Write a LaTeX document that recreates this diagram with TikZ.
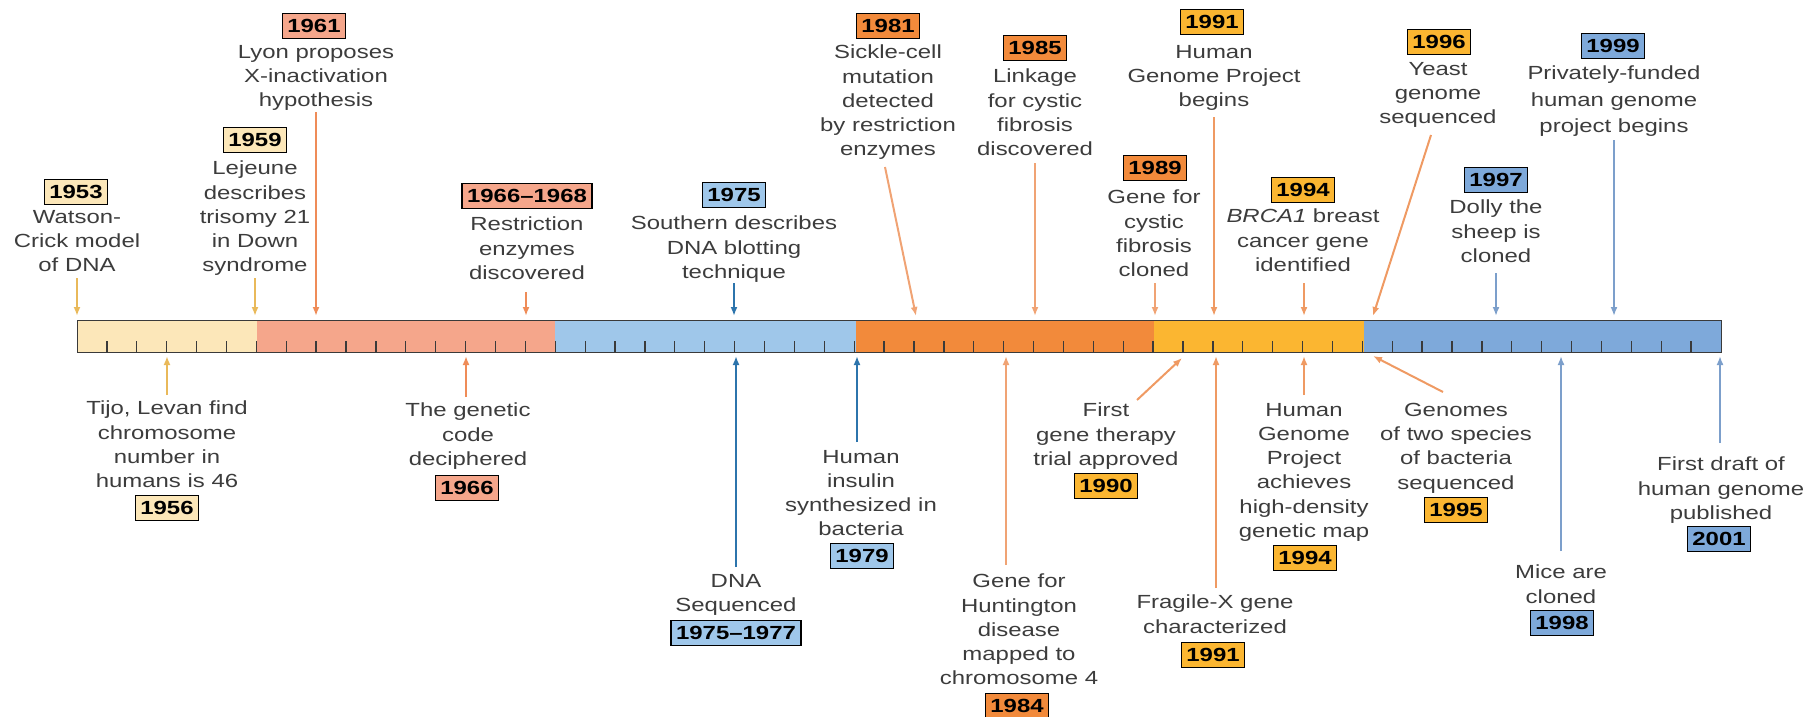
\documentclass[tikz,border=0pt]{standalone}
\usepackage{fontspec}
\setmainfont[FakeStretch=1.26]{Liberation Sans}
\usetikzlibrary{arrows.meta}

% era colours: bar segments and year tags
\definecolor{eraA}{HTML}{FCE7B9}
\definecolor{eraB}{HTML}{F5A68B}
\definecolor{eraC}{HTML}{9FC7EA}
\definecolor{eraD}{HTML}{F28A3B}
\definecolor{eraE}{HTML}{FBB631}
\definecolor{eraF}{HTML}{7EA9DA}
% pointer colours
\definecolor{ptrA}{HTML}{E9B95A}
\definecolor{ptrB}{HTML}{EF8C58}
\definecolor{ptrC}{HTML}{2C74AC}
\definecolor{ptrD}{HTML}{F0A374}
\definecolor{ptrE}{HTML}{EF9A63}
\definecolor{ptrF}{HTML}{7C9FCB}
\definecolor{txtgray}{HTML}{3C3C3C}
\definecolor{rim}{HTML}{3A3A3A}

\begin{document}
\begin{tikzpicture}[x=1pt,y=-1pt,
  lbl/.style={align=center, inner sep=0pt, anchor=north, text=txtgray,
              font=\fontsize{19}{24.2}\selectfont},
  lblup/.style={lbl, anchor=south},
  yr/.style={draw=black, line width=1.6pt, fill=#1, text=black,
             font=\fontsize{19}{24}\selectfont\bfseries,
             inner xsep=5pt, inner ysep=0pt, minimum height=25pt,
             text height=13.6pt, text depth=0pt},
  ptr/.style={draw=#1, line width=2pt, -{Latex[length=9pt,width=7pt]}},
  tick/.style={draw=rim, line width=1.3pt},
]
\useasboundingbox (0,0) rectangle (1810,717);

% ---- the time bar ----
\fill[eraA] (77,320)   rectangle (257,352);
\fill[eraB] (257,320)  rectangle (555,352);
\fill[eraC] (555,320)  rectangle (856,352);
\fill[eraD] (856,320)  rectangle (1154,352);
\fill[eraE] (1154,320) rectangle (1364,352);
\fill[eraF] (1364,320) rectangle (1721,352);
\foreach \k in {1,...,54}
  \draw[tick] ({77+29.891*\k},352) -- ++(0,-11);
\node[draw=rim, line width=1.3pt, minimum width=1644pt, minimum height=32pt,
      inner sep=0pt, anchor=north west] (bar) at (77,320) {};

% ---- events above the bar ----
\node[yr=eraA] (y1953) at (76,192) {1953};
\node[lbl] (t1953) at (77,210) {Watson-\\Crick model\\of DNA};
\coordinate (s1953) at (77,278); \coordinate (e1953) at (77,316);
\draw[ptr=ptrA] (s1953) -- (e1953);

\node[yr=eraA] (y1959) at (255,140) {1959};
\node[lbl] (t1959) at (255,161) {Lejeune\\describes\\trisomy 21\\in Down\\syndrome};
\coordinate (s1959) at (255,278); \coordinate (e1959) at (255,316);
\draw[ptr=ptrA] (s1959) -- (e1959);

\node[yr=eraB] (y1961) at (314,26) {1961};
\node[lbl] (t1961) at (316,45) {Lyon proposes\\X-inactivation\\hypothesis};
\coordinate (s1961) at (316,112); \coordinate (e1961) at (316,316);
\draw[ptr=ptrB] (s1961) -- (e1961);

\node[yr=eraB] (y1966r) at (527,196) {1966--1968};
\node[lbl] (t1966r) at (527,217) {Restriction\\enzymes\\discovered};
\coordinate (s1966r) at (526,292); \coordinate (e1966r) at (526,316);
\draw[ptr=ptrB] (s1966r) -- (e1966r);

\node[yr=eraC] (y1975) at (734,195) {1975};
\node[lbl] (t1975) at (734,216) {Southern describes\\DNA blotting\\technique};
\coordinate (s1975) at (734,283); \coordinate (e1975) at (734,316);
\draw[ptr=ptrC] (s1975) -- (e1975);

\node[yr=eraD] (y1981) at (888,26) {1981};
\node[lbl] (t1981) at (888,45) {Sickle-cell\\mutation\\detected\\by restriction\\enzymes};
\coordinate (s1981) at (885,167); \coordinate (e1981) at (916,316);
\draw[ptr=ptrD] (s1981) -- (e1981);

\node[yr=eraD] (y1985) at (1035,48) {1985};
\node[lbl] (t1985) at (1035,69) {Linkage\\for cystic\\fibrosis\\discovered};
\coordinate (s1985) at (1035,163); \coordinate (e1985) at (1035,316);
\draw[ptr=ptrD] (s1985) -- (e1985);

\node[yr=eraD] (y1989) at (1155,168) {1989};
\node[lbl] (t1989) at (1154,190) {Gene for\\cystic\\fibrosis\\cloned};
\coordinate (s1989) at (1155,283); \coordinate (e1989) at (1155,316);
\draw[ptr=ptrD] (s1989) -- (e1989);

\node[yr=eraE] (y1991h) at (1212,22) {1991};
\node[lbl] (t1991h) at (1214,45) {Human\\Genome Project\\begins};
\coordinate (s1991h) at (1214,117); \coordinate (e1991h) at (1214,316);
\draw[ptr=ptrE] (s1991h) -- (e1991h);

\node[yr=eraE] (y1994b) at (1303,190) {1994};
\node[lbl] (t1994b) at (1303,209) {\textit{BRCA1} breast\\cancer gene\\identified};
\coordinate (s1994b) at (1304,283); \coordinate (e1994b) at (1304,316);
\draw[ptr=ptrE] (s1994b) -- (e1994b);

\node[yr=eraE] (y1996) at (1439,42) {1996};
\node[lbl] (t1996) at (1438,62) {Yeast\\genome\\sequenced};
\coordinate (s1996) at (1431,135); \coordinate (e1996) at (1373,316);
\draw[ptr=ptrE] (s1996) -- (e1996);

\node[yr=eraF] (y1997) at (1496,180) {1997};
\node[lbl] (t1997) at (1496,200) {Dolly the\\sheep is\\cloned};
\coordinate (s1997) at (1496,273); \coordinate (e1997) at (1496,316);
\draw[ptr=ptrF] (s1997) -- (e1997);

\node[yr=eraF] (y1999) at (1613,46) {1999};
\node[lbl, font=\fontsize{19}{26.5}\selectfont] (t1999) at (1614,66) {Privately-funded\\human genome\\project begins};
\coordinate (s1999) at (1614,140); \coordinate (e1999) at (1614,316);
\draw[ptr=ptrF] (s1999) -- (e1999);

% ---- events below the bar ----
\node[lbl] (t1956) at (167,401) {Tijo, Levan find\\chromosome\\number in\\humans is 46};
\node[yr=eraA] (y1956) at (167,508) {1956};
\coordinate (s1956) at (167,395); \coordinate (e1956) at (167,356);
\draw[ptr=ptrA] (s1956) -- (e1956);

\node[lbl] (t1966) at (468,403) {The genetic\\code\\deciphered};
\node[yr=eraB] (y1966) at (467,488) {1966};
\coordinate (s1966) at (466,397); \coordinate (e1966) at (466,356);
\draw[ptr=ptrB] (s1966) -- (e1966);

\node[lbl] (t1975s) at (736,574) {DNA\\Sequenced};
\node[yr=eraC] (y1975s) at (736,633) {1975--1977};
\coordinate (s1975s) at (736,567); \coordinate (e1975s) at (736,356);
\draw[ptr=ptrC] (s1975s) -- (e1975s);

\node[lbl] (t1979) at (861,450) {Human\\insulin\\synthesized in\\bacteria};
\node[yr=eraC] (y1979) at (862,556) {1979};
\coordinate (s1979) at (857,442); \coordinate (e1979) at (857,356);
\draw[ptr=ptrC] (s1979) -- (e1979);

\node[lbl] (t1984) at (1019,574) {Gene for\\Huntington\\disease\\mapped to\\chromosome 4};
\node[yr=eraD] (y1984) at (1017,706) {1984};
\coordinate (s1984) at (1006,565); \coordinate (e1984) at (1006,356);
\draw[ptr=ptrD] (s1984) -- (e1984);

\node[lbl] (t1990) at (1106,403) {First\\gene therapy\\trial approved};
\node[yr=eraE] (y1990) at (1106,486) {1990};
\coordinate (s1990) at (1137,400); \coordinate (e1990) at (1182,358);
\draw[ptr=ptrE] (s1990) -- (e1990);

\node[lbl] (t1991f) at (1215,595) {Fragile-X gene\\characterized};
\node[yr=eraE] (y1991f) at (1213,655) {1991};
\coordinate (s1991f) at (1216,588); \coordinate (e1991f) at (1216,356);
\draw[ptr=ptrE] (s1991f) -- (e1991f);

\node[lbl] (t1994h) at (1304,403) {Human\\Genome\\Project\\achieves\\high-density\\genetic map};
\node[yr=eraE] (y1994h) at (1305,558) {1994};
\coordinate (s1994h) at (1304,395); \coordinate (e1994h) at (1304,356);
\draw[ptr=ptrE] (s1994h) -- (e1994h);

\node[lbl] (t1995) at (1456,403) {Genomes\\of two species\\of bacteria\\sequenced};
\node[yr=eraE] (y1995) at (1456,510) {1995};
\coordinate (s1995) at (1443,392); \coordinate (e1995) at (1373,356);
\draw[ptr=ptrE] (s1995) -- (e1995);

\node[lbl] (t1998) at (1561,565) {Mice are\\cloned};
\node[yr=eraF] (y1998) at (1562,623) {1998};
\coordinate (s1998) at (1561,551); \coordinate (e1998) at (1561,356);
\draw[ptr=ptrF] (s1998) -- (e1998);

\node[lbl] (t2001) at (1721,457) {First draft of\\human genome\\published};
\node[yr=eraF] (y2001) at (1719,539) {2001};
\coordinate (s2001) at (1720,443); \coordinate (e2001) at (1720,356);
\draw[ptr=ptrF] (s2001) -- (e2001);
\end{tikzpicture}
\end{document}
